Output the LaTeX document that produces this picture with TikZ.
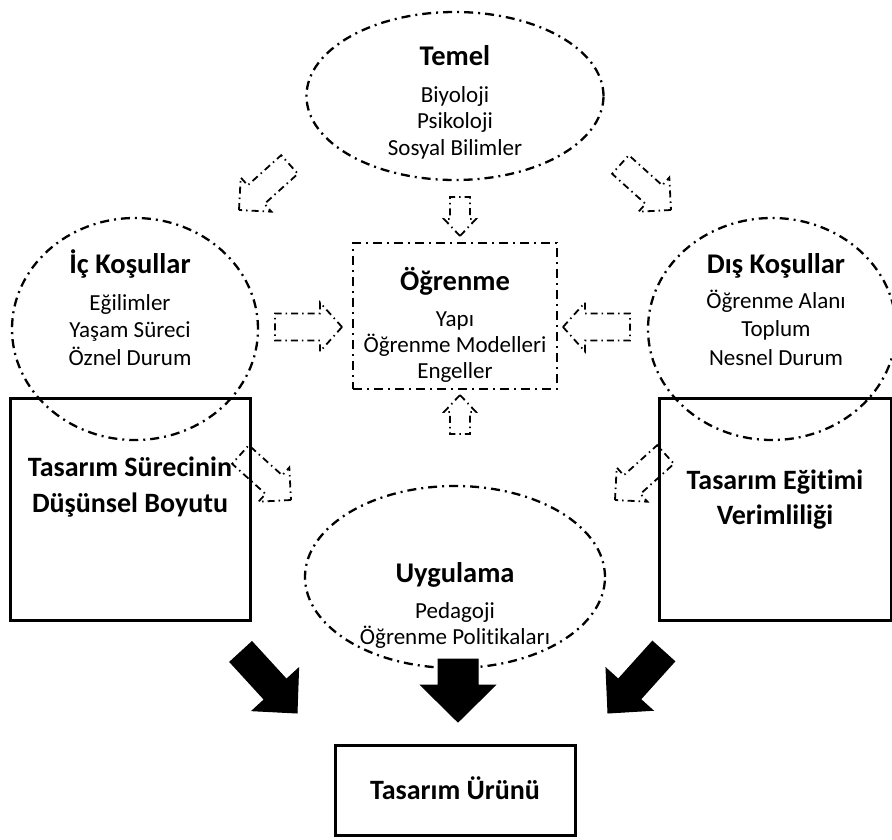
\documentclass[tikz,border=0pt]{standalone}
\usepackage{fontspec}
\setmainfont{Carlito}[Ligatures=NoCommon]
\usetikzlibrary{shapes.geometric}

% block arrow: tip at #2, pointing at angle #3, length #4, shaft #5, head width #6, head length #7
\newcommand\blockarrow[7]{%
  \draw[#1, shift={(#2)}, rotate=#3]
    (0,0) -- (-#7, #6/2) -- (-#7, #5/2) -- (-#4, #5/2) -- (-#4, -#5/2)
    -- (-#7, -#5/2) -- (-#7, -#6/2) -- cycle;}

\tikzset{
  dashdot/.style={line width=2.3pt, dash pattern=on 9pt off 5pt on 2pt off 5pt},
  oval/.style={draw, dashdot, ellipse, inner sep=0pt},
  dashbox/.style={draw, dashdot, rectangle, inner sep=0pt},
  framebox/.style={draw, line width=3pt, rectangle, inner sep=0pt},
  head/.style={font=\fontsize{28.5}{32}\selectfont\bfseries, anchor=base, inner sep=0pt},
  boxtext/.style={font=\fontsize{28}{32}\selectfont\bfseries, anchor=base, inner sep=0pt},
  body/.style={font=\fontsize{23}{26}\selectfont, anchor=base, inner sep=0pt},
  hollow/.style={line width=1.8pt, line join=miter, dash pattern=on 7pt off 4pt on 1.5pt off 4pt},
  solid arrow/.style={fill=black, draw=black, line width=1pt, line join=miter}
}

\begin{document}
\begin{tikzpicture}[x=1pt, y=-1pt]
\useasboundingbox (0,0) rectangle (892,839);

% outer shapes
\node[oval, minimum width=297pt, minimum height=168pt] (temel) at (455,96) {};
\node[oval, minimum width=246pt, minimum height=222pt] (ic) at (135,329) {};
\node[oval, minimum width=248pt, minimum height=222pt] (dis) at (772,329) {};
\node[oval, minimum width=300pt, minimum height=182pt] (uyg) at (455,577) {};
\node[dashbox, minimum width=204pt, minimum height=146pt] (ogr) at (455,316) {};

\node[framebox, minimum width=240pt, minimum height=222pt] (surec) at (130,509) {};
\node[framebox, minimum width=232pt, minimum height=222pt] (verim) at (775,509) {};
\node[framebox, minimum width=240pt, minimum height=90pt] (urun) at (455,790) {};

% texts
\node[head] (temelH) at (455,65) {Temel};
\node[body] (temel1) at (455,102) {Biyoloji};
\node[body] (temel2) at (455,128.5) {Psikoloji};
\node[body] (temel3) at (455,155) {Sosyal Bilimler};

\node[head] (icH) at (130,273) {İç Koşullar};
\node[body] (ic1) at (130,310) {Eğilimler};
\node[body] (ic2) at (130,337.5) {Yaşam Süreci};
\node[body] (ic3) at (130,365) {Öznel Durum};

\node[head] (disH) at (776,273) {Dış Koşullar};
\node[body] (dis1) at (776,308) {Öğrenme Alanı};
\node[body] (dis2) at (776,336.5) {Toplum};
\node[body] (dis3) at (776,365) {Nesnel Durum};

\node[head] (ogrH) at (455,290) {Öğrenme};
\node[body] (ogr1) at (455,326) {Yapı};
\node[body] (ogr2) at (455,352) {Öğrenme Modelleri};
\node[body] (ogr3) at (455,378) {Engeller};

\node[head] (uygH) at (455,582) {Uygulama};
\node[body] (uyg1) at (455,618) {Pedagoji};
\node[body] (uyg2) at (455,644) {Öğrenme Politikaları};

\node[boxtext] (surec1) at (130,476) {Tasarım Sürecinin};
\node[boxtext] (surec2) at (130,512) {Düşünsel Boyutu};
\node[boxtext] (verim1) at (775,489) {Tasarım Eğitimi};
\node[boxtext] (verim2) at (775,524) {Verimliliği};
\node[boxtext] (urunT) at (455,799) {Tasarım Ürünü};

% tips of the hollow arrows
\coordinate (a1) at (239,210);
\coordinate (a2) at (671,210);
\coordinate (a3) at (460,236);
\coordinate (a4) at (342,327);
\coordinate (a5) at (563,327);
\coordinate (a6) at (460,395);
\coordinate (a7) at (291,500);
\coordinate (a8) at (615,500);

\blockarrow{hollow}{a1}{222}{68}{25}{46}{23}
\blockarrow{hollow}{a2}{-42}{68}{25}{46}{23}
\blockarrow{hollow}{a3}{270}{39}{20}{32}{17}
\blockarrow{hollow}{a4}{0}{67}{27}{49}{22}
\blockarrow{hollow}{a5}{180}{67}{27}{49}{22}
\blockarrow{hollow}{a6}{90}{39}{20}{32}{17}
\blockarrow{hollow}{a7}{-42}{68}{25}{46}{23}
\blockarrow{hollow}{a8}{222}{68}{25}{46}{23}

% tips of the filled arrows
\coordinate (b1) at (297,713);
\coordinate (b2) at (458,722);
\coordinate (b3) at (608,713);

\blockarrow{solid arrow}{b1}{-47.5}{83}{30}{63}{32}
\blockarrow{solid arrow}{b2}{270}{63}{40}{75}{37}
\blockarrow{solid arrow}{b3}{228}{83}{30}{63}{32}
\end{tikzpicture}
\end{document}
